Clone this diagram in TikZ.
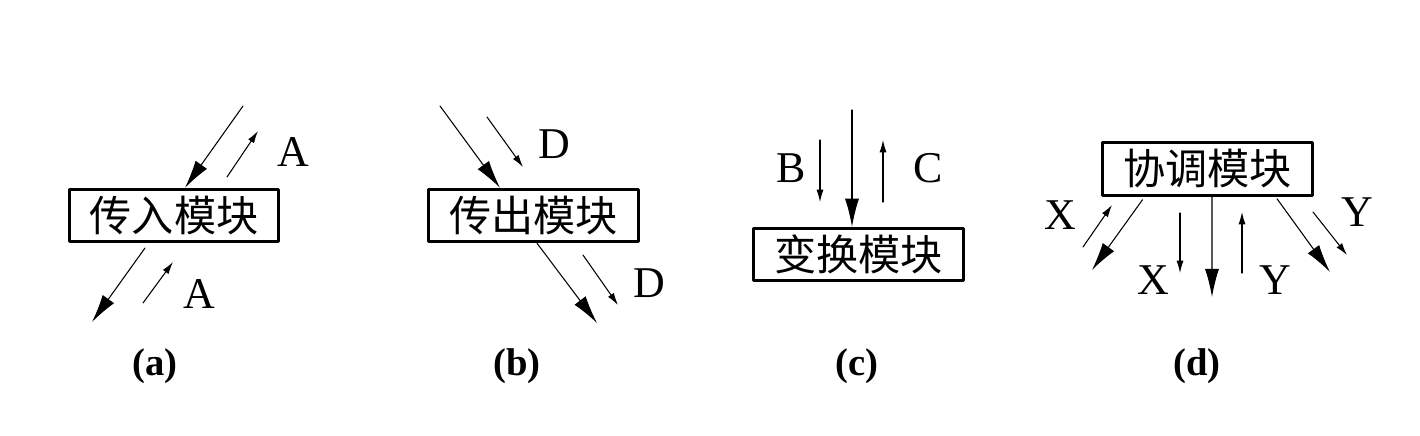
\documentclass[tikz,border=0pt]{standalone}
\usepackage{fontspec}
\setmainfont{Liberation Serif}
\newfontfamily\cjk{Noto Sans CJK SC}
\usetikzlibrary{arrows.meta,calc}
\begin{document}
\begin{tikzpicture}[x=0.02cm,y=-0.02cm, line join=round, line cap=round,
	mod/.style={draw,line width=1.7pt,minimum width=4.2cm,minimum height=1.05cm,inner sep=0pt,font=\cjk\fontsize{24}{24}\selectfont},
	big/.style={line width=0.6pt,-{Latex[length=16pt,width=8pt]}},
	sml/.style={line width=0.6pt,-{Latex[length=7pt,width=4pt]}},
	lbl/.style={inner sep=0pt,font=\fontsize{25}{25}\selectfont},
	subcap/.style={inner sep=0pt,font=\bfseries\fontsize{22}{22}\selectfont}]
	\useasboundingbox (0,0) rectangle (1420,436);
	% (a) 传入模块
	\node[mod] (ina) at (174,215.5) {传入模块};
	\coordinate (a1) at (243,106); \coordinate (a2) at (92,322);
	\coordinate (a3) at (227,177); \coordinate (a4) at (258,131);
	\coordinate (a5) at (143,303); \coordinate (a6) at (173,262);
	\coordinate (a7) at (145,248);
	\draw[big] (a1) -- ($(ina.north)+(11,0)$);
	\draw[big] (a7) -- (a2);
	\draw[sml] (a3) -- (a4);
	\draw[sml] (a5) -- (a6);
	\node[lbl] (la1) at (293,152) {A};
	\node[lbl] (la2) at (199,294) {A};
	% (b) 传出模块
	\node[mod] (outb) at (533.5,215.5) {传出模块};
	\coordinate (b1) at (440,106); \coordinate (b2) at (597,323);
	\coordinate (b3) at (487,117); \coordinate (b4) at (523,167);
	\coordinate (b5) at (583,255); \coordinate (b6) at (618,305);
	\draw[big] (b1) -- ($(outb.north)+(-33.5,0)$);
	\draw[big] ($(outb.south)+(3.5,0)$) -- (b2);
	\draw[sml] (b3) -- (b4);
	\draw[sml] (b5) -- (b6);
	\node[lbl] (lb1) at (554,144) {D};
	\node[lbl] (lb2) at (649,283) {D};
	% (c) 变换模块
	\node[mod] (tran) at (858.5,254.5) {变换模块};
	\coordinate (c1) at (852,110);
	\coordinate (c2) at (820,140); \coordinate (c3) at (820,202);
	\coordinate (c4) at (883,202); \coordinate (c5) at (883,140);
	\draw[big] (c1) -- (c1 |- tran.north);
	\draw[sml] (c2) -- (c3);
	\draw[sml] (c4) -- (c5);
	\node[lbl] (lc1) at (791,168) {B};
	\node[lbl] (lc2) at (928,168) {C};
	% (d) 协调模块
	\node[mod] (coor) at (1207.5,169) {协调模块};
	\coordinate (d1) at (1092,270); \coordinate (d2) at (1212,297); \coordinate (d3) at (1330,272);
	\coordinate (d4) at (1083,247); \coordinate (d5) at (1112,205);
	\coordinate (d6) at (1180,213); \coordinate (d7) at (1180,273);
	\coordinate (d8) at (1242,273); \coordinate (d9) at (1242,212);
	\coordinate (d10) at (1313,212); \coordinate (d11) at (1347,255);
	\draw[big] ($(coor.south)+(-65,3)$) -- (d1);
	\draw[big] ($(coor.south)+(4.5,0)$) -- (d2);
	\draw[big] ($(coor.south)+(69.5,2)$) -- (d3);
	\draw[sml] (d4) -- (d5);
	\draw[sml] (d6) -- (d7);
	\draw[sml] (d8) -- (d9);
	\draw[sml] (d10) -- (d11);
	\node[lbl] (ld1) at (1060,215) {X};
	\node[lbl] (ld2) at (1153,280) {X};
	\node[lbl] (ld3) at (1275,280) {Y};
	\node[lbl] (ld4) at (1357,212) {Y};
	% captions
	\foreach \t/\x in {a/155,b/517,c/857,d/1197}
	\node[subcap] (cap\t) at (\x,366) {(\t)};
\end{tikzpicture}
\end{document}
